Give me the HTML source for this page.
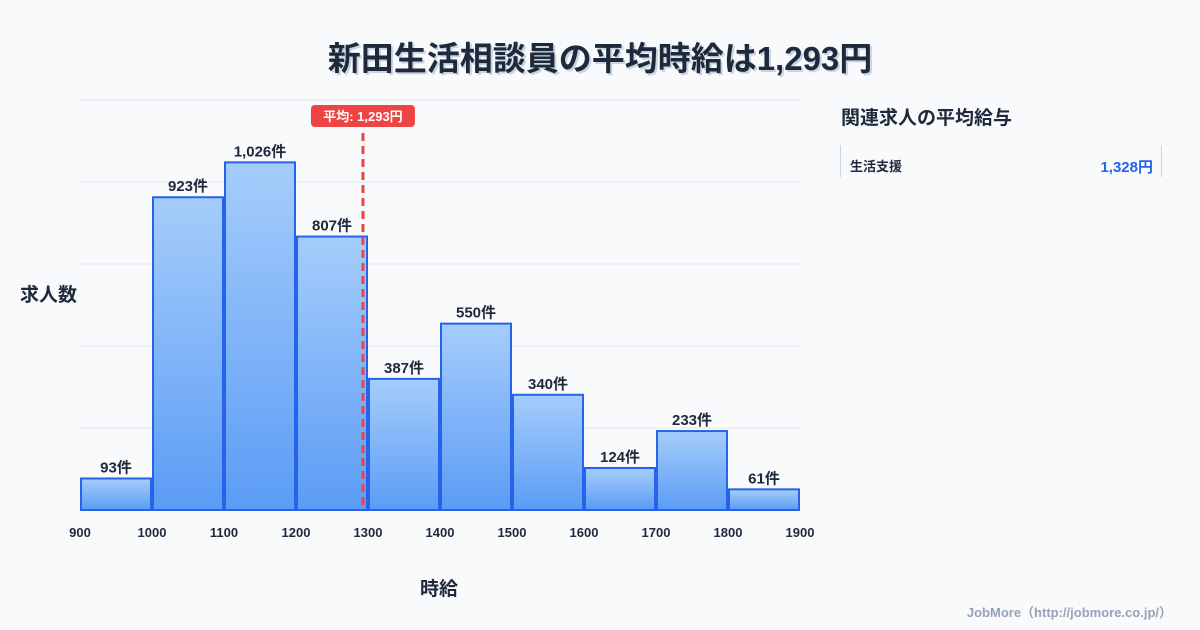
<!DOCTYPE html>
<html><head><meta charset="utf-8"><style>
body{margin:0;width:1200px;height:630px;background:#f8fafc;font-family:"Liberation Sans","Noto Sans CJK JP",sans-serif;overflow:hidden;position:relative;color:#1e293b}
.t{position:absolute;font-weight:700}
</style></head><body>
<div class="t" style="left:0;width:1200px;top:32px;text-align:center;font-size:33px;text-shadow:2px 2px 0 #cbd5e1">新田生活相談員の平均時給は1,293円</div>
<div class="t" style="left:20px;top:280px;font-size:19px">求人数</div>
<div class="t" style="left:420px;top:574px;font-size:19px">時給</div>
<div class="t" style="left:841px;top:103px;font-size:19px">関連求人の平均給与</div>
<div style="position:absolute;left:840px;top:145px;width:320px;height:32px;border-left:1px solid #cbd5e1;border-right:1px solid #cbd5e1">
<span class="t" style="left:9px;top:11px;font-size:13px">生活支援</span>
<span class="t" style="right:8px;top:11px;font-size:15px;color:#2563eb">1,328円</span></div>
<div style="position:absolute;right:28px;top:602px;font-size:13px;font-weight:700;color:#94a3b8">JobMore（http://jobmore.co.jp/）</div>
<svg id="c" width="1200" height="630" style="position:absolute;left:0;top:0">
<defs><linearGradient id="g" x1="0" y1="0" x2="0" y2="1"><stop offset="0" stop-color="#a5cdfb"/><stop offset="1" stop-color="#5b9cf5"/></linearGradient></defs>
</svg>
<script>
const bins=[900,1000,1100,1200,1300,1400,1500,1600,1700,1800];
const counts=[93,923,1026,807,387,550,340,124,233,61];
const xTicks=[900,1000,1100,1200,1300,1400,1500,1600,1700,1800,1900];
const meanValue=1293;
const yMax=1210;
const svg=document.getElementById('c');const NS='http://www.w3.org/2000/svg';
const X=v=>80+(v-900)*0.72, Y=v=>510-v/yMax*410;
function mk(t,a,p){const e=document.createElementNS(NS,t);for(const k in a)e.setAttribute(k,a[k]);(p||svg).appendChild(e);return e;}
for(let i=1;i<=5;i++){const gy=510-i*82;const l=mk('line',{x1:80,x2:800,y1:gy,y2:gy,stroke:'#e2e8f0'});

}
bins.forEach((b,i)=>{const x0=X(b)+1,x1=X(b+100)-1,y=Y(counts[i]);
const r=mk('rect',{x:x0,y:y,width:x1-x0,height:510-y,fill:'url(#g)',stroke:'#2563eb','stroke-width':2});


const t=mk('text',{x:(x0+x1)/2,y:y-6,'text-anchor':'middle','font-size':15,'font-weight':700,fill:'#1e293b'});


t.textContent=counts[i].toLocaleString('en-US')+'件';});
xTicks.forEach(v=>{const t=mk('text',{x:X(v),y:537,'text-anchor':'middle','font-size':13,'font-weight':700,fill:'#1e293b'});


t.textContent=v;});
const mx=X(meanValue);
const ml=mk('line',{x1:mx,x2:mx,y1:133,y2:510,stroke:'#ef4444','stroke-width':3,'stroke-dasharray':'8,5'});


const mb=mk('rect',{x:mx-52,y:105,width:104,height:22,rx:4,fill:'#ef4444'});


const mt=mk('text',{x:mx,y:121,'text-anchor':'middle','font-size':13,'font-weight':700,fill:'#fff'});


mt.textContent='平均: '+meanValue.toLocaleString('en-US')+'円';
</script>
</body></html>
